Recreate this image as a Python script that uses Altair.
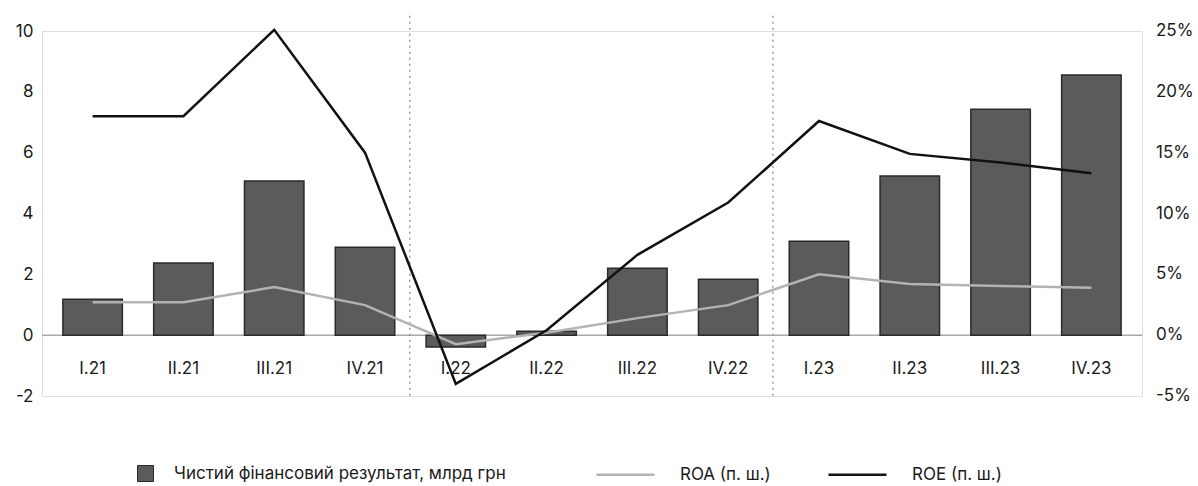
import altair as alt
import pandas as pd

quarters = ["I.21", "II.21", "III.21", "IV.21", "I.22", "II.22", "III.22", "IV.22",
            "I.23", "II.23", "III.23", "IV.23"]
net_result = [1.18, 2.37, 5.07, 2.89, -0.39, 0.13, 2.2, 1.84, 3.09, 5.23, 7.43, 8.55]
roa = [2.7, 2.7, 3.95, 2.47, -0.74, 0.2, 1.4, 2.47, 5.0, 4.2, 4.05, 3.9]
roe = [18.0, 18.0, 25.1, 15.0, -4.0, 0.4, 6.6, 10.9, 17.6, 14.9, 14.2, 13.3]
left_ticks = [-2, 0, 2, 4, 6, 8, 10]
right_ticks = [-5, 0, 5, 10, 15, 20, 25]
pct_per_unit = 2.5  # right axis (%) per left-axis unit

bar_name = "Чистий фінансовий результат, млрд грн"
roa_name = "ROA (п. ш.)"
roe_name = "ROE (п. ш.)"
separators_after = ["IV.21", "IV.22"]

FONT = "Inter"
TXT = "#1a1a1a"
W, H = 1100, 365

bars_df = pd.DataFrame({"q": quarters, "v": net_result, "series": [bar_name] * len(quarters)})
lines_df = pd.DataFrame({
    "q": quarters + quarters,
    "v": roa + roe,
    "series": [roa_name] * len(quarters) + [roe_name] * len(quarters),
})
sep_df = pd.DataFrame({"q": separators_after, "top": [10.5, 10.5], "bottom": [-2, -2]})
zero_df = pd.DataFrame({"y": [0]})
rt_df = pd.DataFrame({"t": right_ticks})

xscale = alt.Scale(domain=quarters, paddingInner=0.345, paddingOuter=0.23)
yscale = alt.Scale(domain=[-2, 10], nice=False, zero=False)

common = dict(title=None, grid=False, domain=False, domainColor="transparent", ticks=False,
              labelFontSize=17, labelColor=TXT, labelFont=FONT)
xaxis = alt.Axis(orient="bottom", offset=-36, labelPadding=0, labelAngle=0, **common)
yaxis = alt.Axis(orient="left", values=left_ticks, labelPadding=9,
                 labelExpr="datum.value < 0 ? '-' + abs(datum.value) : '' + datum.value",
                 **common)

bars = alt.Chart(bars_df).mark_bar(stroke="#2a2a2a", strokeWidth=1.5).encode(
    x=alt.X("q:N", scale=xscale, sort=quarters, axis=xaxis),
    y=alt.Y("v:Q", scale=yscale, axis=yaxis),
    fill=alt.Fill("series:N", scale=alt.Scale(domain=[bar_name], range=["#5b5b5b"]),
                  legend=alt.Legend(title=None, orient="none", legendX=95, legendY=434,
                                    symbolType="square", symbolSize=256,
                                    symbolStrokeColor="#2a2a2a", symbolStrokeWidth=1,
                                    labelFontSize=17, labelFont=FONT, labelColor=TXT,
                                    labelLimit=500, labelOffset=20, padding=0)),
)

zero = alt.Chart(zero_df).mark_rule(color="#a8a8a8", strokeWidth=1.5).encode(
    y=alt.Y("y:Q", scale=yscale, axis=yaxis)
)

seps = alt.Chart(sep_df).mark_rule(color="#9a9a9a", strokeWidth=1.5, strokeDash=[2, 4],
                                   xOffset=15).encode(
    x=alt.X("q:N", scale=xscale, sort=quarters, bandPosition=1, axis=xaxis),
    y=alt.Y("top:Q", scale=yscale, axis=yaxis),
    y2="bottom:Q",
)

lines = alt.Chart(lines_df).transform_calculate(
    vs=f"datum.v / {pct_per_unit}"
).mark_line(strokeWidth=2.5).encode(
    x=alt.X("q:N", scale=xscale, sort=quarters, axis=xaxis),
    y=alt.Y("vs:Q", scale=yscale, axis=yaxis),
    stroke=alt.Stroke("series:N", scale=alt.Scale(domain=[roa_name, roe_name],
                                                  range=["#b3b3b3", "#111111"]),
                      legend=alt.Legend(title=None, orient="none", direction="horizontal",
                                        legendX=553, legendY=413, symbolType="stroke",
                                        symbolSize=3364, symbolStrokeWidth=2.5,
                                        columnPadding=52, labelOffset=24,
                                        labelFontSize=17, labelFont=FONT,
                                        labelColor=TXT, labelLimit=300, padding=0)),
    detail="series:N",
)

# right-hand percentage axis labels, positioned through the shared y scale
right_labels = alt.Chart(rt_df).transform_calculate(
    ys=f"datum.t / {pct_per_unit}",
    lab="(datum.t < 0 ? '-' + abs(datum.t) : '' + datum.t) + '%'",
).mark_text(align="left", baseline="middle", dx=14, fontSize=17, font=FONT,
            color=TXT).encode(
    x=alt.value(W),
    y=alt.Y("ys:Q", scale=yscale, axis=yaxis),
    text="lab:N",
)

chart = alt.layer(zero, seps, bars, lines, right_labels).properties(
    width=W, height=H,
    autosize=alt.AutoSizeParams(type="none"),
    padding={"left": 42, "top": 31, "right": 56, "bottom": 90},
).configure_view(strokeWidth=0, stroke="transparent").configure_axis(
    domain=False, domainColor="transparent", grid=False, ticks=False
).configure(background="white")

chart.save("out.html", embed_options={"renderer": "svg", "actions": False})
